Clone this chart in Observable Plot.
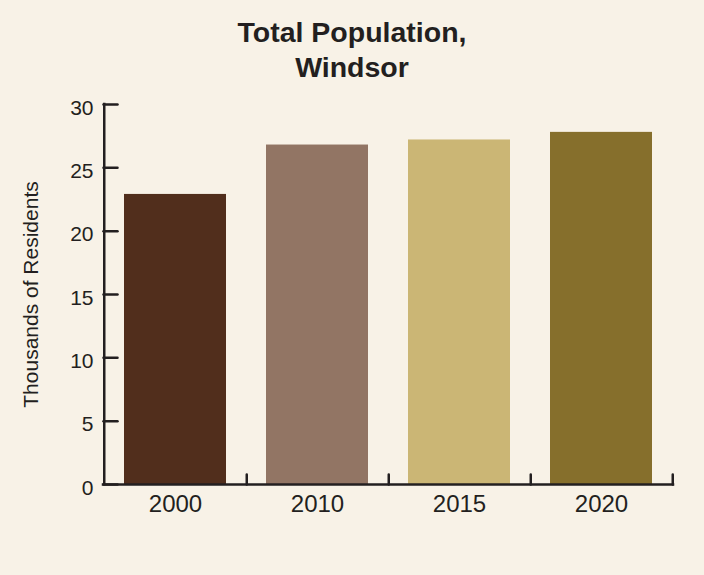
<!DOCTYPE html>
<html>
<head>
<meta charset="utf-8">
<script src="https://cdn.jsdelivr.net/npm/d3@7"></script>
<script src="https://cdn.jsdelivr.net/npm/@observablehq/plot@0.6"></script>
<style>
  html, body { margin: 0; padding: 0; background: #f8f2e7; }
  #wrap { width: 704px; height: 575px; overflow: hidden; font-family: "Liberation Sans", Arial, sans-serif; color: #231f20; }
  #title { height: 84px; box-sizing: border-box; padding-top: 15px; text-align: center; font-weight: bold; font-size: 28.5px; line-height: 35px; }
  svg { display: block; }
</style>
</head>
<body>
<div id="wrap">
  <div id="title"></div>
  <div id="chart"></div>
</div>
<script>
const years = ["2000", "2010", "2015", "2020"];
const population = [22.9, 26.8, 27.2, 27.8];
const barColors = ["#512e1c", "#927564", "#cbb675", "#866f2c"];
const yTicks = [0, 5, 10, 15, 20, 25, 30];
const yMax = 30;
const titleLines = ["Total Population,", "Windsor"];
const yLabel = "Thousands of Residents";

document.getElementById("title").innerHTML = titleLines.join("<br>");

const data = years.map((y, i) => ({year: y, value: population[i]}));

const W = 704, H = 491, mL = 103, mR = 31, mT = 20, mB = 91;
const step = (W - mL - mR) / years.length;
const ink = "#231f20";
const tickShape = {draw(context, l) { context.moveTo(0, 0); context.lineTo(0, -l); }};

const chart = Plot.plot({
  width: W, height: H,
  marginLeft: mL, marginRight: mR, marginTop: mT, marginBottom: mB,
  style: {background: "transparent", fontFamily: "'Liberation Sans', Arial, sans-serif", color: ink, overflow: "visible"},
  x: {domain: years, paddingInner: 0.28, paddingOuter: 0.14, label: null},
  y: {domain: [0, yMax], label: null},
  color: {domain: years, range: barColors},
  marks: [
    Plot.barY(data, {x: "year", y: "value", fill: "year"}),
    Plot.ruleY([0], {stroke: ink, strokeWidth: 2.5, strokeLinecap: "square"}),
    Plot.ruleX([years[0]], {x: d => d, y1: 0, y2: yMax, dx: -step / 2, stroke: ink, strokeWidth: 2.5, strokeLinecap: "square"}),
    Plot.vector(yTicks, {y: d => d, frameAnchor: "left", length: 14, rotate: 90, anchor: "start", shape: tickShape, stroke: ink, strokeWidth: 2.5}),
    Plot.vector(years, {x: d => d, frameAnchor: "bottom", length: 10, rotate: 0, anchor: "start", shape: tickShape, dx: step / 2, stroke: ink, strokeWidth: 2.5}),
    Plot.axisY(yTicks, {tickSize: 0, tickPadding: 10, fontSize: 21, dy: 3.5, label: null, fill: ink}),
    Plot.axisX({tickSize: 0, tickPadding: 10, fontSize: 24, label: null, fill: ink}),
    Plot.text([yLabel], {text: d => d, frameAnchor: "left", textAnchor: "middle", rotate: -90, dx: -80, lineAnchor: "top", fontSize: 21, fill: ink})
  ]
});
document.getElementById("chart").appendChild(chart);
</script>
</body>
</html>
